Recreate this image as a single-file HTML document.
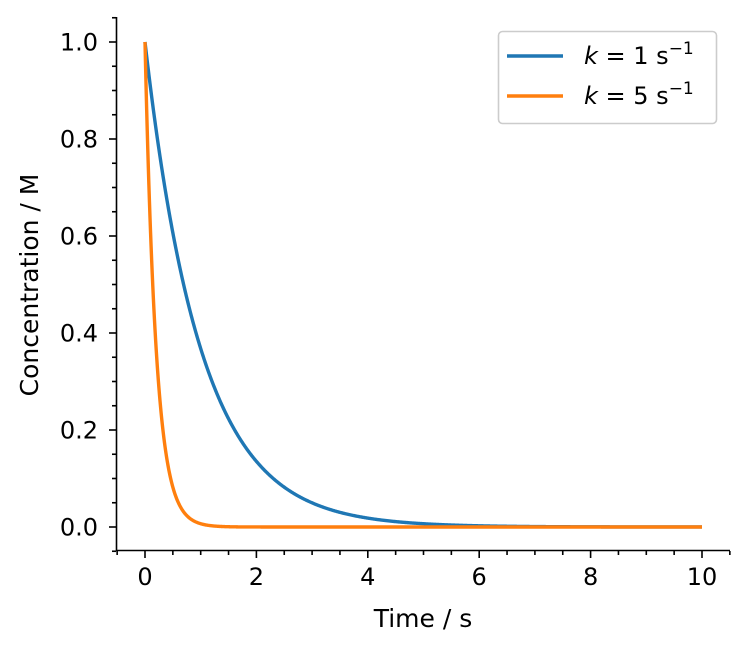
<!DOCTYPE html>
<html><head><style>body{margin:0;background:#fff}svg{display:block;font-family:"DejaVu Sans","Liberation Sans",sans-serif}</style></head>
<body>
<svg id="s" width="748" height="652" xmlns="http://www.w3.org/2000/svg">
<rect width="748" height="652" fill="#fff"/>
<g id="ticks" stroke="#000" stroke-width="1.6"></g>
<path id="c1" fill="none" stroke="#1f77b4" stroke-width="3.4"/>
<path id="c5" fill="none" stroke="#ff7f0e" stroke-width="3.4"/>
<line x1="116.5" y1="17" x2="116.5" y2="551" stroke="#000" stroke-width="1.6"/>
<line x1="116" y1="550.5" x2="730" y2="550.5" stroke="#000" stroke-width="1.6"/>
<g font-size="24" fill="#000" id="labels"></g>
<text x="423" y="627" font-size="25" text-anchor="middle">Time / s</text>
<text transform="translate(38,285) rotate(-90)" font-size="25" text-anchor="middle">Concentration / M</text>
<rect x="498.5" y="31.5" width="218" height="92" rx="4" fill="#fff" stroke="#ccc" stroke-width="1.6"/>
<line x1="507" y1="56" x2="563" y2="56" stroke="#1f77b4" stroke-width="3.4"/>
<line x1="507" y1="96" x2="563" y2="96" stroke="#ff7f0e" stroke-width="3.4"/>
<text x="584" y="64" font-size="24"><tspan font-style="italic">k</tspan> = 1 s<tspan font-size="17" dy="-10">−1</tspan></text>
<text x="584" y="104" font-size="24"><tspan font-style="italic">k</tspan> = 5 s<tspan font-size="17" dy="-10">−1</tspan></text>
</svg>
<script>
var X=t=>145+t*55.7, Y=v=>527-v*485;
function p(k){var d="";for(var i=0;i<=1000;i++){var t=i/100;d+=(i?"L":"M")+X(t).toFixed(2)+" "+Y(Math.exp(-k*t)).toFixed(2);}return d;}
document.getElementById("c1").setAttribute("d",p(1));
document.getElementById("c5").setAttribute("d",p(5));
var g=document.getElementById("ticks"),L=document.getElementById("labels"),h="",l="";
for(var t=-0.5;t<=10.51;t+=0.5){var x=X(t),maj=Math.abs(t/2-Math.round(t/2))<1e-6;h+='<line x1="'+x+'" y1="551" x2="'+x+'" y2="'+(maj?558:555)+'"/>';if(maj)l+='<text x="'+x+'" y="585" text-anchor="middle">'+Math.round(t)+'</text>';}
for(var i=-1;i<=21;i++){var v=i*0.05,y=Y(v);if(y<17)continue;var maj=i%4==0&&i>=0;h+='<line x1="116" y1="'+y+'" x2="'+(maj?109:112)+'" y2="'+y+'"/>';if(maj)l+='<text x="98" y="'+(y+8.5)+'" text-anchor="end">'+v.toFixed(1)+'</text>';}
g.innerHTML=h;L.innerHTML=l;
</script>
</body></html>
